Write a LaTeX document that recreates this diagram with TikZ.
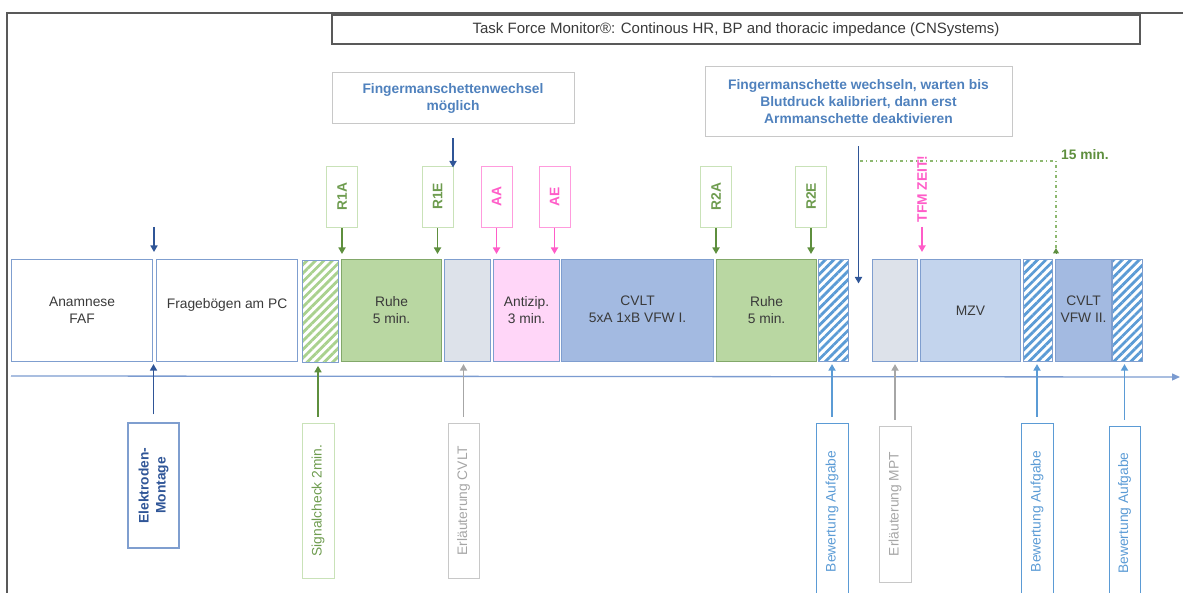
\documentclass[tikz,border=0pt]{standalone}
\usepackage{fontspec}
\setmainfont{Liberation Sans}
\usetikzlibrary{arrows.meta,patterns.meta}

\definecolor{framec}{HTML}{595959}
\definecolor{segb}{HTML}{7F9ECF}
\definecolor{ruhef}{HTML}{B9D7A2}
\definecolor{ruhed}{HTML}{82A86A}
\definecolor{grayf}{HTML}{DDE2EA}
\definecolor{pinkf}{HTML}{FFD6F8}
\definecolor{cvltf}{HTML}{A3BAE1}
\definecolor{mzvf}{HTML}{C3D4ED}
\definecolor{hatchb}{HTML}{5B9BD5}
\definecolor{hatchg}{HTML}{A9D18E}
\definecolor{garrc}{HTML}{5E8F3E}
\definecolor{glab}{HTML}{C9E2B8}
\definecolor{gtxt}{HTML}{6E9C4F}
\definecolor{pinkc}{HTML}{FF5CC8}
\definecolor{pinkl}{HTML}{FF9BDD}
\definecolor{darkb}{HTML}{2F5597}
\definecolor{midb}{HTML}{4F81BD}
\definecolor{lightb}{HTML}{5B9BD5}
\definecolor{grayc}{HTML}{A6A6A6}
\definecolor{grayl}{HTML}{C8C8C8}
\definecolor{txt}{HTML}{3A3A3A}
\definecolor{axisc}{HTML}{7B9BD0}
\definecolor{dashg}{HTML}{8DB870}

\newcommand{\twolines}[2]{\begin{tabular}{@{}c@{}}#1\\#2\end{tabular}}

\tikzset{
  basefont/.style={font=\fontsize{13.8}{17}\selectfont},
  boldfont/.style={font=\fontsize{13.8}{17}\selectfont\bfseries},
  seg/.style={basefont, draw=segb, line width=1.1pt, anchor=north west,
    minimum height=102pt, inner sep=0pt, text=txt, align=center},
  hatchseg/.style={seg, pattern={Lines[angle=45,distance=6pt,line width=2.8pt]}, pattern color=#1},
  vlab/.style={rotate=90, inner sep=1pt, line width=0.9pt, align=center},
  toplab/.style={vlab, boldfont, minimum width=61pt, minimum height=31pt},
  glabel/.style={toplab, draw=glab, text=gtxt},
  plabel/.style={toplab, draw=pinkl, text=pinkc},
  botlab/.style={vlab, basefont, line width=1pt},
  notebox/.style={boldfont, draw=grayl, line width=1pt, text=midb, align=center, inner sep=0pt},
  tfmbox/.style={font=\fontsize{15}{18}\selectfont, draw=framec, line width=1.5pt, text=txt, inner sep=0pt},
  arr/.style={line width=1.6pt, -{Triangle[width=7pt,length=6.5pt]}},
}

\begin{document}
\begin{tikzpicture}[x=1pt,y=-1pt]
\useasboundingbox (0,0) rectangle (1183,593);
% frame
\draw[framec, line width=1.6pt] (7,600) -- (7,13) -- (1190,13);

% top boxes
\node[tfmbox, minimum width=808pt, minimum height=29pt] (tfm) at (736,29.5)
  {Task Force Monitor®: Continous HR, BP and thoracic impedance (CNSystems)};
\node[notebox, minimum width=242pt, minimum height=51pt] (fm1) at (453,98.5)
  {Fingermanschettenwechsel\\möglich};
\node[notebox, minimum width=307pt, minimum height=70pt] (fm2) at (858.5,102)
  {Fingermanschette wechseln, warten bis\\Blutdruck kalibriert, dann erst\\Armmanschette deaktivieren};

% main row
\node[seg, fill=white, minimum width=141pt] (anam) at (11,259) {Anamnese\\FAF};
\node[seg, fill=white, minimum width=141pt] (frag) at (156,259) {\raisebox{14pt}{Fragebögen am PC}};
\node[hatchseg=hatchg, minimum width=36pt] (hg) at (301,259) {};
\node[seg, fill=ruhef, draw=ruhed, minimum width=100pt] (ruhe1) at (341,259) {Ruhe\\5 min.};
\node[seg, fill=grayf, minimum width=46pt] (gr1) at (444,259) {};
\node[seg, fill=pinkf, minimum width=66pt] (anti) at (493,259) {Antizip.\\3 min.};
\node[seg, fill=cvltf, minimum width=152pt] (cvlt1) at (561,259) {\raisebox{-5pt}{\twolines{CVLT}{5xA 1xB VFW I.}}};
\node[seg, fill=ruhef, draw=ruhed, minimum width=100pt] (ruhe2) at (716,259) {Ruhe\\5 min.};
\node[hatchseg=hatchb, minimum width=30pt] (hb1) at (818,259) {};
\node[seg, fill=grayf, minimum width=45pt] (gr2) at (872,259) {};
\node[seg, fill=mzvf, minimum width=100pt] (mzv) at (920,259) {\raisebox{-3pt}{MZV}};
\node[hatchseg=hatchb, minimum width=29pt] (hb2) at (1023,259) {};
\node[seg, fill=cvltf, minimum width=56pt] (cvlt2) at (1055,259) {\raisebox{-9pt}{\twolines{CVLT}{VFW II.}}};
\node[hatchseg=hatchb, minimum width=30pt] (hb3) at (1112,259) {};

% top labels
\node[glabel] (r1a) at (342,196.5) {R1A};
\node[glabel] (r1e) at (437.5,196.5) {R1E};
\node[plabel] (aa) at (496.5,196.5) {AA};
\node[plabel] (ae) at (554.5,196.5) {AE};
\node[glabel] (r2a) at (716,196.5) {R2A};
\node[glabel] (r2e) at (811,196.5) {R2E};
\node[vlab, boldfont, text=pinkc, inner sep=2pt] (tfmz) at (922,189) {TFM ZEIT!};

\draw[arr, garrc, shorten <=1pt, shorten >=5pt] (r1a.west) -- (r1a.west |- ruhe1.north);
\draw[arr, garrc, shorten <=1pt, shorten >=5pt] (r1e.west) -- (r1e.west |- ruhe1.north);
\draw[arr, pinkc, shorten <=1pt, shorten >=5pt] (aa.west) -- (aa.west |- anti.north);
\draw[arr, pinkc, shorten <=1pt, shorten >=5pt] (ae.west) -- (ae.west |- anti.north);
\draw[arr, garrc, shorten <=1pt, shorten >=5pt] (r2a.west) -- (r2a.west |- ruhe2.north);
\draw[arr, garrc, shorten <=1pt, shorten >=5pt] (r2e.west) -- (r2e.west |- ruhe2.north);
\draw[arr, pinkc, shorten <=2pt, shorten >=7pt] (tfmz.west) -- (tfmz.west |- mzv.north);

% blue arrows from notes
\draw[arr, darkb] ([yshift=-14pt]fm1.south) -- ++(0,29);
\draw[arr, darkb] ([yshift=-9pt]fm2.south) -- ++(0,137);
\coordinate (elA) at (154,227);
\draw[arr, darkb, shorten >=7pt] (elA) -- (elA |- frag.north);

% 15 min
\coordinate (gs) at (860,161);
\coordinate (gc) at (1056,161);
\draw[dashg, line width=1.3pt, dash pattern=on 3pt off 3pt on 1pt off 3pt] (gs) -- (gc) -- ([yshift=5pt]gc |- cvlt2.north);
\draw[garrc, -{Triangle[width=6pt,length=5.5pt]}, line width=1pt] ([yshift=6pt]gc |- cvlt2.north) -- ([yshift=11pt]gc |- cvlt2.north);
\node[boldfont, text=garrc, anchor=west, inner sep=0pt] (fifteen) at (1061,155) {15 min.};

% time axis
\coordinate (ax0) at (11,376);
\coordinate (ax1) at (1180,377);
\draw[axisc, line width=1.3pt, -{Triangle[width=7pt,length=8pt]}] (ax0) -- (ax1);

% bottom labels
\node[botlab, boldfont, draw=segb, line width=1.2pt, text=darkb, minimum width=125pt, minimum height=51pt] (elek) at (153.5,485.5) {Elektroden-\\Montage};
\node[botlab, draw=glab, text=gtxt, minimum width=155pt, minimum height=32pt] (sig) at (318,500.5) {Signalcheck 2min.};
\node[botlab, draw=grayl, text=grayc, minimum width=155pt, minimum height=31pt] (erl1) at (463.5,500.5) {Erläuterung CVLT};
\node[botlab, draw=lightb, text=lightb, minimum width=177pt, minimum height=32pt] (bew1) at (832,511.5) {Bewertung Aufgabe};
\node[botlab, draw=grayl, text=grayc, minimum width=156pt, minimum height=32pt] (mpt) at (895,504) {Erläuterung MPT};
\node[botlab, draw=lightb, text=lightb, minimum width=177pt, minimum height=32pt] (bew2) at (1037,511.5) {Bewertung Aufgabe};
\node[botlab, draw=lightb, text=lightb, minimum width=174pt, minimum height=31pt] (bew3) at (1124.5,513) {Bewertung Aufgabe};

\draw[arr, darkb, shorten <=8pt, shorten >=2pt] (elek.east) -- (elek.east |- anam.south);
\draw[arr, garrc, shorten <=6pt, shorten >=2pt] (sig.east) -- (sig.east |- hg.south);
\draw[arr, grayc, shorten <=6pt, shorten >=2pt] (erl1.east) -- (erl1.east |- gr1.south);
\draw[arr, lightb, shorten <=6pt, shorten >=2pt] (bew1.east) -- (bew1.east |- hb1.south);
\draw[arr, grayc, shorten <=6pt, shorten >=2pt] (mpt.east) -- (mpt.east |- gr2.south);
\draw[arr, lightb, shorten <=6pt, shorten >=2pt] (bew2.east) -- (bew2.east |- hb2.south);
\draw[arr, lightb, shorten <=6pt, shorten >=2pt] (bew3.east) -- (bew3.east |- hb3.south);
\end{tikzpicture}
\end{document}
